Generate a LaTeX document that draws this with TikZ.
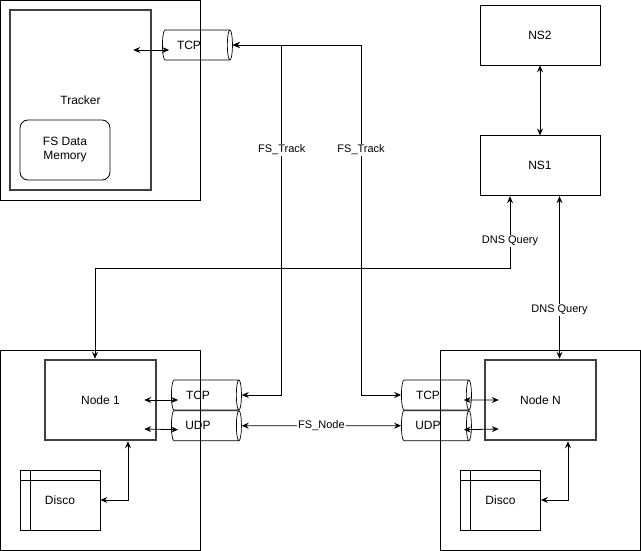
\documentclass[tikz,border=0pt]{standalone}
\usepackage{fontspec}
\setmainfont{Liberation Sans}
\usetikzlibrary{arrows.meta,positioning,shapes.geometric}
\tikzset{
    %Define standard arrow tip
    >={Stealth[length=7pt,width=6pt,inset=2.5pt]},
    %Define style for outer frames
    hostframe/.style={
           rectangle,
           draw=black, line width=0.8pt,
           minimum width=200pt,
           minimum height=200pt},
    %Define style for program boxes
    app/.style={
           rectangle,
           draw=black!75, line width=2.5pt,
           font=\fontsize{12}{14}\selectfont},
    plainbox/.style={
           rectangle,
           draw=black, line width=0.8pt,
           minimum width=120pt,
           minimum height=60pt,
           font=\fontsize{12}{14}\selectfont},
    mem/.style={
           rectangle,
           rounded corners=8pt,
           draw=black, line width=0.8pt,
           minimum width=90pt,
           minimum height=60pt,
           align=center,
           font=\fontsize{12}{14}\selectfont},
    % Define pipe style
    pipe/.style={
           cylinder,
           draw=black, line width=0.7pt,
           shape aspect=0.6,
           minimum width=30pt,
           minimum height=70pt,
           inner sep=0pt,
           execute at end node=\hspace*{14pt},
           font=\fontsize{12}{14}\selectfont},
    disk/.style={
           rectangle,
           draw=black, line width=0.8pt,
           minimum width=80pt,
           minimum height=60pt,
           font=\fontsize{12}{14}\selectfont,
           path picture={
              \draw ([xshift=10pt]path picture bounding box.north west)
                 -- ([xshift=10pt]path picture bounding box.south west);
              \draw ([yshift=-10pt]path picture bounding box.north west)
                 -- ([yshift=-10pt]path picture bounding box.north east);}},
    % Define arrow style
    both/.style={
           <->,
           line width=0.8pt},
    tag/.style={
           fill=white,
           inner sep=1pt,
           font=\fontsize{11}{13}\selectfont}
}

\begin{document}
\begin{tikzpicture}[x=1pt, y=1pt]
 \useasboundingbox (0,0) rectangle (641,-551);
 %nodes
    \node[hostframe] (trackerhost) at (100,-100) {};
    \node[app, minimum width=141pt, minimum height=180pt] (tracker) at (80.5,-100) {Tracker};
    \node[mem] (fsmem) at (65,-150) {FS Data\\Memory};
    \node[pipe] (tcpT) at (196,-45) {TCP};
    \node[plainbox] (ns2) at (540,-35) {NS2};
    \node[plainbox, below=70pt of ns2] (ns1) {NS1};
    \node[hostframe] (host1) at (100,-450) {};
    \node[app, minimum width=111pt, minimum height=80pt] (node1) at (100.5,-400) {Node 1};
    \node[pipe] (tcp1) at (205,-395) {TCP};
    \node[pipe, below=0pt of tcp1] (udp1) {UDP};
    \node[disk] (disco1) at (60,-500) {Disco};
    \node[hostframe] (hostN) at (540,-450) {};
    \node[app, minimum width=111pt, minimum height=80pt] (nodeN) at (540.5,-400) {Node N};
    \node[pipe] (tcpN) at (435,-395) {TCP};
    \node[pipe, below=0pt of tcpN] (udpN) {UDP};
    \node[disk] (discoN) at (500.5,-500) {Disco};
 %edges
    \draw[both] ([xshift=-19pt,yshift=50pt]tracker.east) -- ([xshift=7pt,yshift=-5pt]tcpT.west);
    \draw[both] (tcpT.east) -| node[tag, pos=0.65] {FS\_Track} ([xshift=40pt]tcp1.east) -- (tcp1.east);
    \draw[both] (tcpT.east) -| node[tag, pos=0.65] {FS\_Track} ([xshift=-40pt]tcpN.west) -- (tcpN.west);
    \draw[both] (udp1.east) -- node[tag] {FS\_Node} (udpN.west);
    \draw[both] ([xshift=-13pt]node1.east) -- ([xshift=7pt,yshift=-5pt]tcp1.west);
    \draw[both] ([xshift=-13pt,yshift=-29pt]node1.east) -- ([xshift=7pt,yshift=-4pt]udp1.west);
    \draw[both] ([xshift=-8pt,yshift=-5pt]tcpN.east) -- ([xshift=15pt]nodeN.west);
    \draw[both] ([xshift=-8pt,yshift=-4pt]udpN.east) -- ([xshift=15pt,yshift=-29pt]nodeN.west);
    \draw[both] (disco1.east) -| ([xshift=27.5pt]node1.south);
    \draw[both] (discoN.east) -| ([xshift=27.5pt]nodeN.south);
    \draw[both] (ns2) -- (ns1);
    \draw[both] ([xshift=-30pt]ns1.south) |- node[tag, pos=0.31] {DNS Query} ([xshift=-5.5pt,yshift=90pt]node1.north) -- ([xshift=-5.5pt]node1.north);
    \draw[both] ([xshift=19.5pt]ns1.south) -- node[tag, pos=0.7] {DNS Query} ([xshift=19pt]nodeN.north);
  \end{tikzpicture}
\end{document}
